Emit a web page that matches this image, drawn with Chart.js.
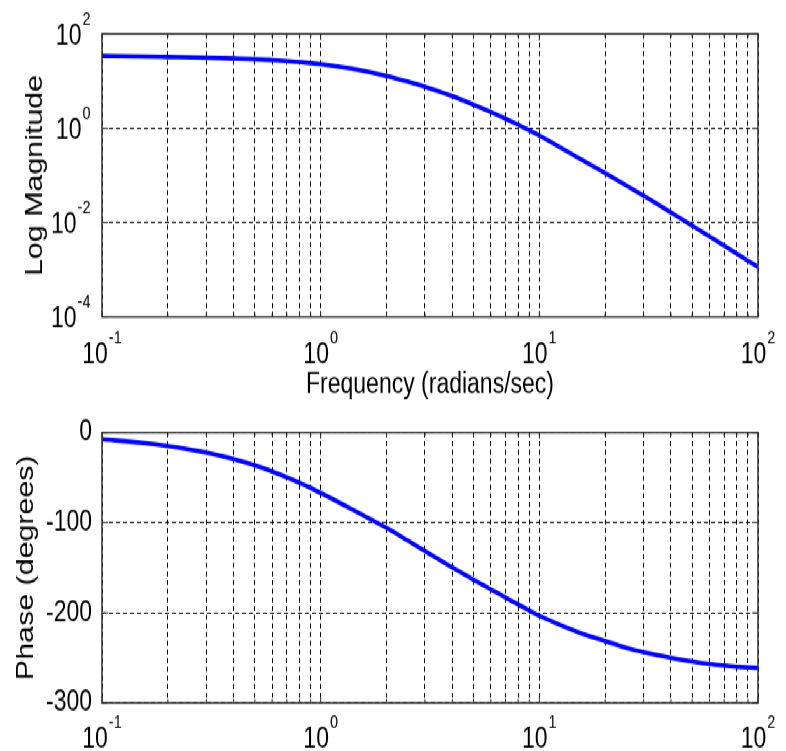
<!DOCTYPE html>
<html>
<head>
<meta charset="UTF-8">
<title>Bode plot</title>
<script src="https://cdn.jsdelivr.net/npm/chart.js@4.4.1/dist/chart.umd.min.js"></script>
<style>
body { margin:0; background:#fff; }
/* the original figure is stretched vertically, so draw at 1/1.24 height and scale up */
#wrap { position:absolute; left:0; top:0; width:786px; height:606px; transform:scaleY(1.24); transform-origin:0 0; background:#fff; }
canvas { display:block; }
</style>
</head>
<body>
<div id="wrap">
    <canvas id="magChart" width="786" height="325"></canvas>
    <canvas id="phaseChart" width="786" height="281"></canvas>
</div>
<script>
// frequency samples (radians/sec)
var freq = [0.1,0.15,0.2,0.3,0.4,0.5,0.6,0.7,0.8,0.9,1,1.5,2,2.5,3,4,5,6,7,8,9,10,15,20,25,30,40,50,60,70,80,90,100];
var magnitude = [34.2,33.5,32.7,31.5,30.3,29.2,27.9,26.7,25.4,24.2,22.9,17.2,12.9,9.77,7.59,4.79,3.16,2.21,1.60,1.19,0.902,0.700,
                 0.240,0.112,0.0610,0.0372,0.0164,0.00861,0.00507,0.00324,0.00219,0.00155,0.00114];
var phase = [-7.5,-11.2,-15,-22.3,-29.5,-36.5,-43.3,-49.8,-55.8,-61.5,-67,-89.5,-105.8,-119.8,-131.5,-149.8,-163.3,-174,-183,-190.8,-197.5,-203.3,
             -221.3,-231.5,-239,-243.8,-250,-254,-256.8,-258.6,-259.8,-260.6,-261.2];

// axis ticks / grid positions
var xTickValues = [0.1,0.2,0.3,0.4,0.5,0.6,0.7,0.8,0.9,1,2,3,4,5,6,7,8,9,10,20,30,40,50,60,70,80,90,100];
var xLabelValues = [0.1, 1, 10, 100];
var xLabelExp = ['-1', '0', '1', '2'];
var magTickValues = [100, 1, 0.01, 0.0001];
var magTickExp = ['2', '0', '-2', '-4'];
var phaseTickValues = [0, -100, -200, -300];
var phaseTickText = ['0', '-100', '-200', '-300'];

var fontFamily = '"Liberation Sans", Arial, Helvetica, sans-serif';
var tickFont = { family: fontFamily, size: 23, lineHeight: 1.2 };
var yTitleFont = { family: fontFamily, size: 24.5, lineHeight: 1.2 };

function isLabelled(v) {
    for (var i = 0; i < xLabelValues.length; i++) {
        if (Math.abs(Math.log10(xLabelValues[i]) - Math.log10(v)) < 1e-6) return true;
    }
    return false;
}

// box around the axes + small inward ticks, matlab style
var boxPlugin = {
    id: 'box',
    afterDraw: function(chart) {
        var a = chart.chartArea, ctx = chart.ctx;
        var xs = chart.scales.x, ys = chart.scales.y;
        ctx.save();
        ctx.setLineDash([]);
        ctx.strokeStyle = '#333';
        ctx.lineWidth = 1;
        xs.ticks.forEach(function(t) {
            var px = xs.getPixelForValue(t.value);
            var len = isLabelled(t.value) ? 5 : 3;
            ctx.beginPath();
            ctx.moveTo(px, a.bottom); ctx.lineTo(px, a.bottom - len);
            ctx.moveTo(px, a.top); ctx.lineTo(px, a.top + len);
            ctx.stroke();
        });
        ys.ticks.forEach(function(t) {
            var py = ys.getPixelForValue(t.value);
            ctx.beginPath();
            ctx.moveTo(a.left, py); ctx.lineTo(a.left + 6, py);
            ctx.moveTo(a.right, py); ctx.lineTo(a.right - 6, py);
            ctx.stroke();
        });
        ctx.lineWidth = 1.5;
        ctx.strokeRect(a.left, a.top, a.right - a.left, a.bottom - a.top);
        ctx.restore();
    }
};

// "10" with a raised exponent for the log axes
function powerLabels(cfg) {
    var capH = 16.5;
    return {
        id: 'powerLabels',
        afterDraw: function(chart) {
            var ctx = chart.ctx, a = chart.chartArea;
            ctx.save();
            ctx.fillStyle = '#000';
            ctx.textAlign = 'left';
            ctx.textBaseline = 'alphabetic';
            var measure = function(exp) {
                ctx.font = '23px ' + fontFamily;
                var w = ctx.measureText('10').width;
                ctx.font = '14.5px ' + fontFamily;
                return { base: w, total: w + 1 + ctx.measureText(exp).width };
            };
            var draw = function(x, baseY, exp, w) {
                ctx.font = '23px ' + fontFamily;
                ctx.fillText('10', x, baseY);
                ctx.font = '14.5px ' + fontFamily;
                ctx.fillText(exp, x + w.base + 1, baseY - capH + 0.5);
            };
            if (cfg.xBaseline) {
                xLabelValues.forEach(function(v, i) {
                    var w = measure(xLabelExp[i]);
                    var px = chart.scales.x.getPixelForValue(v);
                    draw(px - w.total / 2, a.bottom + cfg.xBaseline, xLabelExp[i], w);
                });
            }
            if (cfg.yRight) {
                magTickValues.forEach(function(v, i) {
                    var w = measure(magTickExp[i]);
                    var py = chart.scales.y.getPixelForValue(v);
                    draw(cfg.yRight - w.total, py + capH / 2, magTickExp[i], w);
                });
            }
            ctx.restore();
        }
    };
}

function points(xs, ys) {
    var out = [];
    for (var i = 0; i < xs.length; i++) out.push({ x: xs[i], y: ys[i] });
    return out;
}

function xScale(height, withTitle) {
    return {
        type: 'logarithmic', min: 0.1, max: 100,
        afterBuildTicks: function(s) { s.ticks = xTickValues.map(function(v) { return { value: v }; }); },
        afterFit: function(s) { s.height = height; },
        ticks: { display: false, autoSkip: false, maxRotation: 0 },
        grid: { color: '#000', lineWidth: 1, drawTicks: false },
        border: { display: false, dash: [4, 3] },
        title: { display: withTitle, text: 'Frequency (radians/sec)', color: '#000', font: tickFont, padding: { top: 0, bottom: 1 } }
    };
}

new Chart(document.getElementById('magChart').getContext('2d'), {
    type: 'line',
    data: {
        datasets: [{
            data: points(freq, magnitude),
            borderColor: '#0000ff', borderWidth: 3.6, pointRadius: 0,
            cubicInterpolationMode: 'monotone', fill: false
        }]
    },
    options: {
        responsive: false, animation: false, events: [],
        layout: { padding: { left: 0, right: 28, top: 27.4, bottom: 0 } },
        plugins: { legend: { display: false }, tooltip: { enabled: false } },
        scales: {
            x: xScale(69.4, true),
            y: {
                type: 'logarithmic', min: 0.0001, max: 100,
                afterBuildTicks: function(s) { s.ticks = magTickValues.map(function(v) { return { value: v }; }); },
                afterFit: function(s) { s.width = 102; },
                ticks: { display: false },
                grid: { color: '#000', lineWidth: 1, drawTicks: false },
                border: { display: false, dash: [4, 3] },
                title: { display: true, text: 'Log Magnitude', color: '#000', font: yTitleFont, padding: { top: 20.3, bottom: 0 } }
            }
        }
    },
    plugins: [boxPlugin, powerLabels({ xBaseline: 37.5, yRight: 90.5 })]
});

new Chart(document.getElementById('phaseChart').getContext('2d'), {
    type: 'line',
    data: {
        datasets: [{
            data: points(freq, phase),
            borderColor: '#0000ff', borderWidth: 3.6, pointRadius: 0,
            cubicInterpolationMode: 'monotone', fill: false
        }]
    },
    options: {
        responsive: false, animation: false, events: [],
        layout: { padding: { left: 0, right: 28, top: 15.3, bottom: 0 } },
        plugins: { legend: { display: false }, tooltip: { enabled: false } },
        scales: {
            x: xScale(39.1, false),
            y: {
                type: 'linear', min: -300, max: 0,
                afterBuildTicks: function(s) { s.ticks = phaseTickValues.map(function(v) { return { value: v }; }); },
                afterFit: function(s) { s.width = 102; },
                ticks: {
                    padding: 10, color: '#000', font: tickFont,
                    callback: function(v) {
                        var i = phaseTickValues.indexOf(v);
                        return i < 0 ? '' : phaseTickText[i];
                    }
                },
                grid: { color: '#000', lineWidth: 1, drawTicks: false },
                border: { display: false, dash: [4, 3] },
                title: { display: true, text: 'Phase (degrees)', color: '#000', font: yTitleFont, padding: { top: 12, bottom: 0 } }
            }
        }
    },
    plugins: [boxPlugin, powerLabels({ xBaseline: 36 })]
});
</script>
</body>
</html>
